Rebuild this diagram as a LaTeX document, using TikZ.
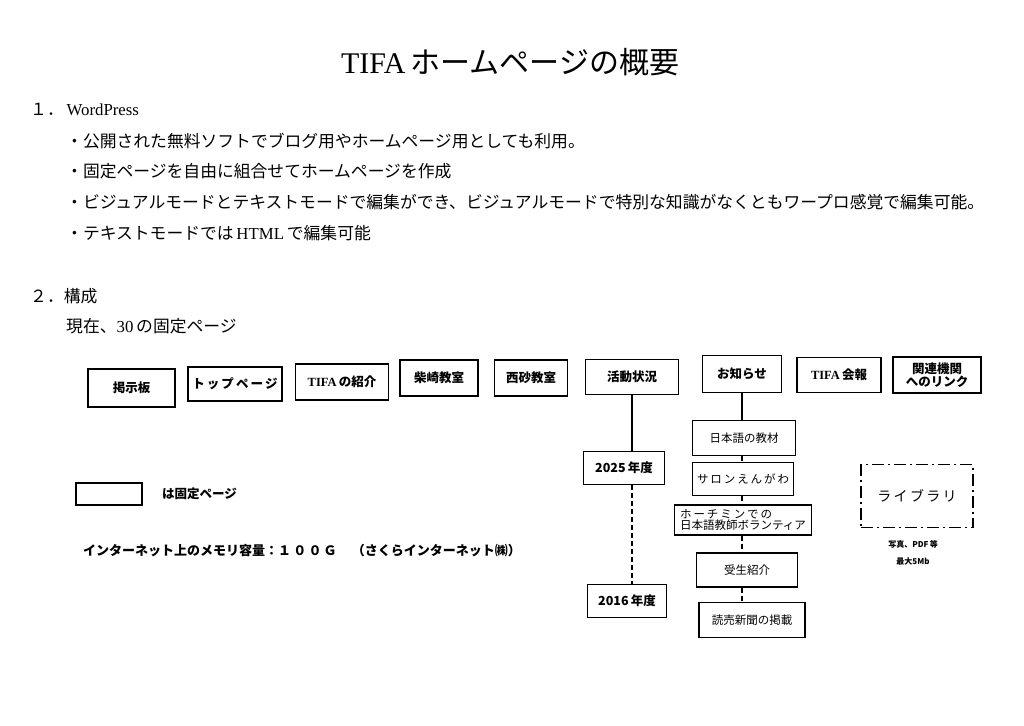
\documentclass[tikz,border=0pt]{standalone}
\usepackage{fontspec}
\setmainfont{Liberation Serif}
\newfontfamily\jp{Noto Sans CJK JP}
\usetikzlibrary{arrows}

\begin{document}
\begin{tikzpicture}[x=1pt,y=-1pt,
	txt/.style={anchor=west, inner sep=0pt, font=\fontsize{16.8}{20}\selectfont},
	fixbox/.style={draw, line width=1.8pt, align=center, inner sep=1pt, font=\jp\bfseries\fontsize{12.5}{14}\selectfont},
	subbox/.style={draw, line width=1.4pt, align=center, inner sep=1pt, font=\jp\fontsize{11.5}{12}\selectfont},
	yearbox/.style={draw, line width=1.4pt, inner sep=1pt, font=\jp\bfseries\fontsize{12.5}{14}\selectfont},
	link/.style={line width=1.4pt},
	dlink/.style={line width=1.4pt, dash pattern=on 5pt off 3pt}]
%	\draw [help lines] (0,0) grid (1024,725);
	\useasboundingbox [fill=white] (0,0) rectangle (1024,725);

	% title and text
	\node (title) at (510,62) {\fontsize{30}{34}\selectfont TIFA\,{\jp ホームページの概要}};
	\node [txt] (h1) at (30,109) {{\jp １．}\,WordPress};
	\node [txt] (b1) at (66,141) {\jp ・公開された無料ソフトでブログ用やホームページ用としても利用。};
	\node [txt] (b2) at (66,171) {\jp ・固定ページを自由に組合せてホームページを作成};
	\node [txt] (b3) at (66,202) {\jp ・ビジュアルモードとテキストモードで編集ができ、ビジュアルモードで特別な知識がなくともワープロ感覚で編集可能。};
	\node [txt] (b4) at (66,233) {{\jp ・テキストモードでは}\,HTML\,{\jp で編集可能}};
	\node [txt] (h2) at (30,296) {\jp ２．構成};
	\node [txt] (now) at (66,326) {{\jp 現在、}30\,{\jp の固定ページ}};

	% fixed pages
	\node [fixbox, minimum width=87pt, minimum height=38pt] (keiji) at (131.5,388) {掲示板};
	\node [fixbox, minimum width=94pt, minimum height=34pt] (top) at (235,384) {ト\,ッ\,プ\,ペ\,ー\,ジ};
	\node [fixbox, minimum width=93pt, minimum height=36pt] (shokai) at (342,382) {{\rmfamily TIFA}\,の紹介};
	\node [fixbox, minimum width=78pt, minimum height=36pt] (shibasaki) at (439,378) {柴崎教室};
	\node [fixbox, minimum width=73pt, minimum height=36pt] (nishisuna) at (531,378) {西砂教室};
	\node [fixbox, minimum width=93pt, minimum height=35pt] (katsudo) at (632,377) {活動状況};
	\node [fixbox, minimum width=79pt, minimum height=37pt] (oshirase) at (742,374) {お知らせ};
	\node [fixbox, minimum width=84pt, minimum height=35pt] (kaiho) at (839,375) {{\rmfamily TIFA}\,会報};
	\node [fixbox, minimum width=88pt, minimum height=36pt, font=\jp\bfseries\fontsize{12.5}{13}\selectfont] (kanren) at (937,375) {関連機関\\へのリンク};

	% activity years
	\node [yearbox, minimum width=81pt, minimum height=33pt] (y2025) at (624,468) {2025\,年度};
	\node [yearbox, minimum width=79pt, minimum height=33pt] (y2016) at (627,601) {2016\,年度};
	\draw [link] (katsudo.south) -- (katsudo.south |- y2025.north);
	\draw [dlink] (katsudo.south |- y2025.south) -- (katsudo.south |- y2016.north);

	% news pages
	\node [subbox, minimum width=103pt, minimum height=35pt] (kyozai) at (744,438) {日本語の教材};
	\node [subbox, minimum width=101pt, minimum height=33pt] (salon) at (743,479) {サ\,ロ\,ン\,え\,ん\,が\,わ};
	\node [subbox, minimum width=137pt, minimum height=30pt, align=left, inner sep=0pt, font=\jp\fontsize{11.5}{10.5}\selectfont] (hcm) at (743,520) {ホ\,ー\,チ\,ミ\,ン\,で\,の\\日本語教師ボランティア};
	\node [subbox, minimum width=101pt, minimum height=34pt] (jusei) at (747,570) {受生紹介};
	\node [subbox, minimum width=106pt, minimum height=35pt] (yomiuri) at (752,620) {読売新聞の掲載};
	\draw [link] (oshirase.south) -- (oshirase.south |- kyozai.north);
	\foreach \a/\b in {kyozai/salon, salon/hcm, hcm/jusei, jusei/yomiuri}
		\draw [dlink] (oshirase.south |- \a.south) -- (oshirase.south |- \b.north);

	% library
	\node [draw, line width=1.8pt, dash pattern=on 12pt off 4pt on 2pt off 4pt, minimum width=112pt, minimum height=63pt, font=\jp\fontsize{14}{16}\selectfont] (library) at (917,496) {ラ\,イ\,ブ\,ラ\,リ};
	\node [font=\jp\bfseries\fontsize{8}{9}\selectfont, inner sep=0pt] (photo) at (913,544) {写真、PDF\,等};
	\node [font=\jp\bfseries\fontsize{8}{9}\selectfont, inner sep=0pt] (max) at (913,561) {最大5Mb};

	% legend
	\node [draw, line width=1.8pt, minimum width=66pt, minimum height=22pt] (legend) at (109,494) {};
	\node [anchor=west, inner sep=0pt, font=\jp\bfseries\fontsize{12.5}{14}\selectfont] (legendtxt) at (162,494) {は固定ページ};
	\node [anchor=west, inner sep=0pt, font=\jp\bfseries\fontsize{13}{14}\selectfont] (memory) at (83,551) {インターネット上のメモリ容量：１\,０\,０\,Ｇ　\,（さくらインターネット㈱）};
\end{tikzpicture}
\end{document}
